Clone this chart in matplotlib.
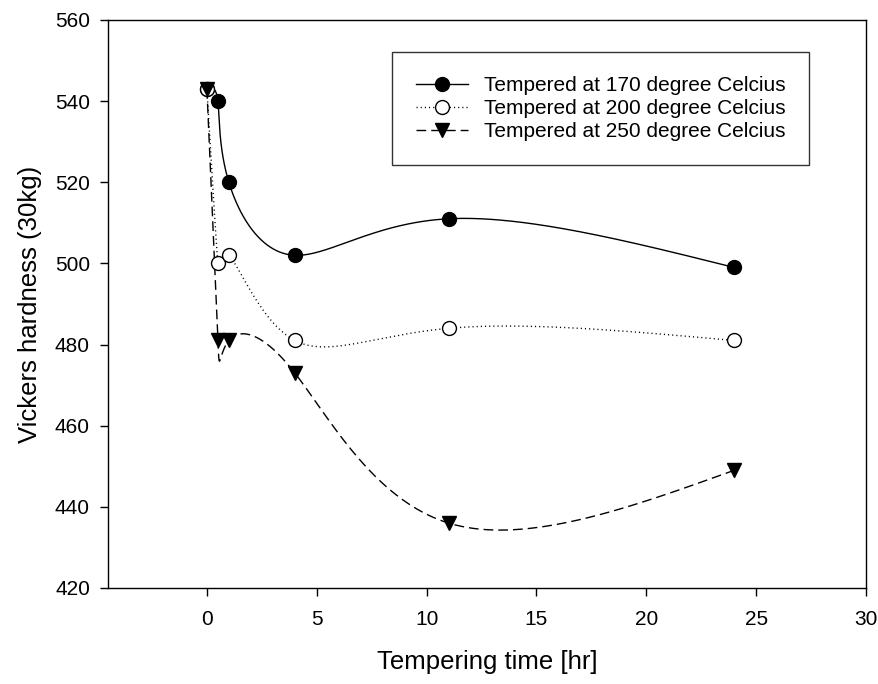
import matplotlib
matplotlib.use('Agg')
import matplotlib.pyplot as plt
import numpy as np

plt.rcParams['font.family'] = ['Liberation Sans', 'DejaVu Sans']

# data
time_hr = [0, 0.5, 1, 4, 11, 24]
hv_170 = [543, 540, 520, 502, 511, 499]
hv_200 = [543, 500, 502, 481, 484, 481]
hv_250 = [543, 481, 481, 473, 436, 449]
labels = ['Tempered at 170 degree Celcius',
          'Tempered at 200 degree Celcius',
          'Tempered at 250 degree Celcius']


def spline_coef(t, y):
    ''' natural cubic spline coefficients (no scipy here) '''
    k = len(t)
    h = np.diff(t)
    A = np.zeros((k, k))
    r = np.zeros(k)
    A[0, 0] = A[-1, -1] = 1
    for i in range(1, k - 1):
        A[i, i - 1] = h[i - 1]
        A[i, i] = 2 * (h[i - 1] + h[i])
        A[i, i + 1] = h[i]
        r[i] = 3 * ((y[i + 1] - y[i]) / h[i] - (y[i] - y[i - 1]) / h[i - 1])
    c = np.linalg.solve(A, r)
    b = (y[1:] - y[:-1]) / h - h * (2 * c[:-1] + c[1:]) / 3
    d = (c[1:] - c[:-1]) / (3 * h)
    return b, c, d


def spline_eval(t, y, b, c, d, ts):
    idx = np.clip(np.searchsorted(t, ts, side='right') - 1, 0, len(t) - 2)
    dt = ts - t[idx]
    return y[idx] + b[idx] * dt + c[idx] * dt ** 2 + d[idx] * dt ** 3


def param_spline(x, y, n=800):
    ''' parametric spline with one parameter step per data point '''
    x = np.asarray(x, float)
    y = np.asarray(y, float)
    t = np.arange(len(x), dtype=float)
    ts = np.linspace(0, t[-1], n)
    xs = spline_eval(t, x, *spline_coef(t, x), ts)
    ys = spline_eval(t, y, *spline_coef(t, y), ts)
    return xs, ys


fig = plt.figure(figsize=[8.79, 6.84], dpi=100)
ax = fig.add_axes([0.1229, 0.1404, 0.8623, 0.8304])

styles = [
    dict(ls='-', marker='o', mfc='black'),
    dict(ls=(0, (0.8, 2.2)), marker='o', mfc='white'),
    dict(ls=(0, (7, 3.6)), marker='v', mfc='black'),
]
series = [hv_170, hv_200, hv_250]
handles = []
for yv, st, lab in zip(series, styles, labels):
    xs, ys = param_spline(time_hr, yv)
    ax.plot(xs, ys, color='black', lw=1.0, ls=st['ls'], zorder=2)
    ax.plot(time_hr, yv, ls='none', marker=st['marker'], ms=10,
            mfc=st['mfc'], mec='black', mew=1.0, zorder=3)
    h, = ax.plot([], [], color='black', lw=1.0, ls=st['ls'], marker=st['marker'],
                 ms=10, mfc=st['mfc'], mec='black', mew=1.0, label=lab)
    handles.append(h)

ax.set_xlim(-4.5, 30)
ax.set_ylim(420, 560)
ax.set_xticks([0, 5, 10, 15, 20, 25, 30])
ax.set_yticks(np.arange(420, 561, 20))
ax.tick_params(direction='out', length=6, width=1, labelsize=15, pad=10, axis='x')
ax.tick_params(direction='out', length=6, width=1, labelsize=15, pad=7, axis='y')
for s in ax.spines.values():
    s.set_linewidth(1.0)

ax.set_xlabel('Tempering time [hr]', fontsize=18.5, labelpad=15)
ax.set_ylabel('Vickers hardness (30kg)', fontsize=18.5, labelpad=9)

leg = ax.legend(handles=handles, loc='upper left', bbox_to_anchor=(0.3747, 0.9437),
                borderaxespad=0, fontsize=15, frameon=True, fancybox=False,
                edgecolor='black', handlelength=2.5, borderpad=1.15,
                labelspacing=0.2, handletextpad=0.75)
leg.get_frame().set_linewidth(1.0)

fig.savefig('out.png', dpi=100)
